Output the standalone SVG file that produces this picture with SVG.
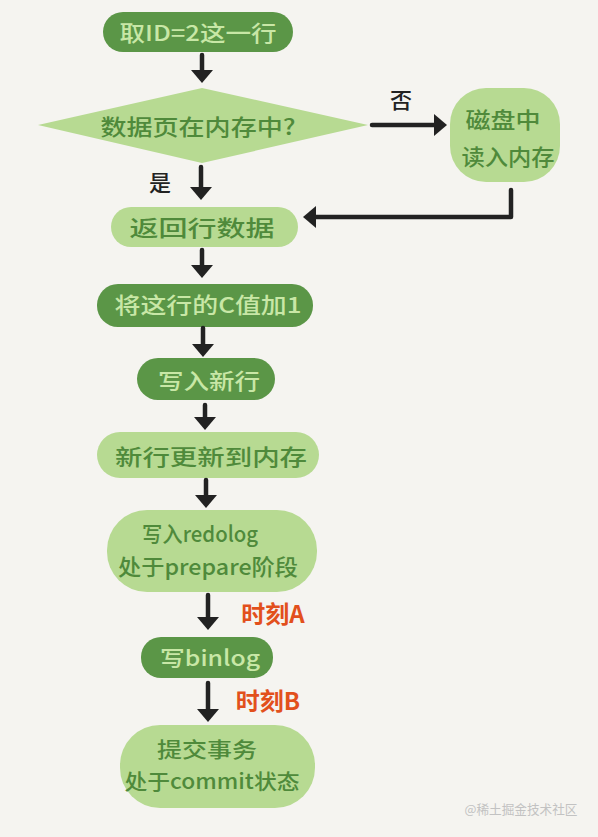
<svg xmlns="http://www.w3.org/2000/svg" width="598" height="837" viewBox="0 0 598 837">
<style>
.dark{fill:#5b9647}
.light{fill:#b7da92}
.t{font-family:"Noto Sans CJK SC","Noto Sans",sans-serif;font-size:22px;font-weight:500;text-anchor:middle}
.s21{font-size:21px}
.td{fill:#c8e7a6}
.tl{fill:#4f8a3b}
.lab{fill:#222;font-size:22px}
.red{fill:#e2501c;font-size:24px;font-weight:700}
.conn line,.conn polyline{stroke:#222;stroke-width:4.5;fill:none;stroke-linecap:round;stroke-linejoin:round}
.wm{font-family:"Noto Sans CJK SC",sans-serif;font-size:13px;fill:#c2c2c2;text-anchor:middle}
</style>
<defs>
<marker id="ah" markerUnits="userSpaceOnUse" markerWidth="13" markerHeight="22" viewBox="0 0 13 22" refX="1" refY="11" orient="auto">
<path d="M0,0 L13,11 L0,22 Z" fill="#222"/>
</marker>
</defs>
<rect width="598" height="837" fill="#f5f4f0"/>

<g id="n1"><rect class="dark" x="103" y="12" width="190" height="40" rx="20"/>
<text class="t td" x="198" y="41" textLength="157" lengthAdjust="spacingAndGlyphs">取ID=2这一行</text></g>

<g id="n2"><polygon class="light" points="38,125 202,88 368,125 202,163"/>
<text class="t tl" x="198" y="135" textLength="195" lengthAdjust="spacingAndGlyphs">数据页在内存中?</text></g>

<g id="n3"><rect class="light" x="450" y="88" width="110" height="94" rx="36"/>
<text class="t tl" x="503" y="128" textLength="75" lengthAdjust="spacingAndGlyphs">磁盘中</text>
<text class="t tl" x="508" y="165" textLength="93" lengthAdjust="spacingAndGlyphs">读入内存</text></g>

<g id="n4"><rect class="light" x="111" y="207" width="187" height="40" rx="20"/>
<text class="t tl" x="202" y="236" textLength="145" lengthAdjust="spacingAndGlyphs">返回行数据</text></g>

<g id="n5"><rect class="dark" x="97" y="284" width="216" height="43" rx="21"/>
<text class="t td" x="208" y="313" textLength="187" lengthAdjust="spacingAndGlyphs">将这行的C值加1</text></g>

<g id="n6"><rect class="dark" x="137" y="358" width="138" height="42" rx="21"/>
<text class="t td" x="209" y="389" textLength="102" lengthAdjust="spacingAndGlyphs">写入新行</text></g>

<g id="n7"><rect class="light" x="97" y="432" width="222" height="46" rx="23"/>
<text class="t tl" x="211" y="465" textLength="192" lengthAdjust="spacingAndGlyphs">新行更新到内存</text></g>

<g id="n8"><rect class="light" x="107" y="510" width="210" height="82" rx="40"/>
<text class="t tl" x="200" y="542" textLength="116" lengthAdjust="spacingAndGlyphs">写入redolog</text>
<text class="t tl" x="208" y="575" textLength="180" lengthAdjust="spacingAndGlyphs">处于prepare阶段</text></g>

<g id="n9"><rect class="dark" x="141" y="637" width="132" height="41" rx="20"/>
<text class="t td" x="210" y="666" textLength="100" lengthAdjust="spacingAndGlyphs">写binlog</text></g>

<g id="n10"><rect class="light" x="120" y="725" width="195" height="83" rx="40"/>
<text class="t tl s21" x="207" y="757" textLength="100" lengthAdjust="spacingAndGlyphs">提交事务</text>
<text class="t tl s21" x="212" y="789" textLength="175" lengthAdjust="spacingAndGlyphs">处于commit状态</text></g>

<g class="conn" id="connectors">
<line x1="202" y1="55" x2="202" y2="71" marker-end="url(#ah)"/>
<line x1="372" y1="125" x2="435" y2="125" marker-end="url(#ah)"/>
<line x1="201" y1="167" x2="201" y2="188" marker-end="url(#ah)"/>
<polyline points="511,190 511,217 315,217" marker-end="url(#ah)"/>
<line x1="202" y1="250" x2="202" y2="266" marker-end="url(#ah)"/>
<line x1="203" y1="328" x2="203" y2="345" marker-end="url(#ah)"/>
<line x1="205" y1="405" x2="205" y2="418" marker-end="url(#ah)"/>
<line x1="206" y1="480" x2="206" y2="496" marker-end="url(#ah)"/>
<line x1="208" y1="595" x2="208" y2="618" marker-end="url(#ah)"/>
<line x1="208" y1="683" x2="208" y2="710" marker-end="url(#ah)"/>
<text class="t lab" x="401" y="108">否</text>
<text class="t lab" x="160" y="191">是</text>
<text class="t red" x="273" y="623">时刻A</text>
<text class="t red" x="268" y="710">时刻B</text>
</g>

<text class="wm" x="521" y="814" textLength="113" lengthAdjust="spacingAndGlyphs">@稀土掘金技术社区</text>
</svg>
